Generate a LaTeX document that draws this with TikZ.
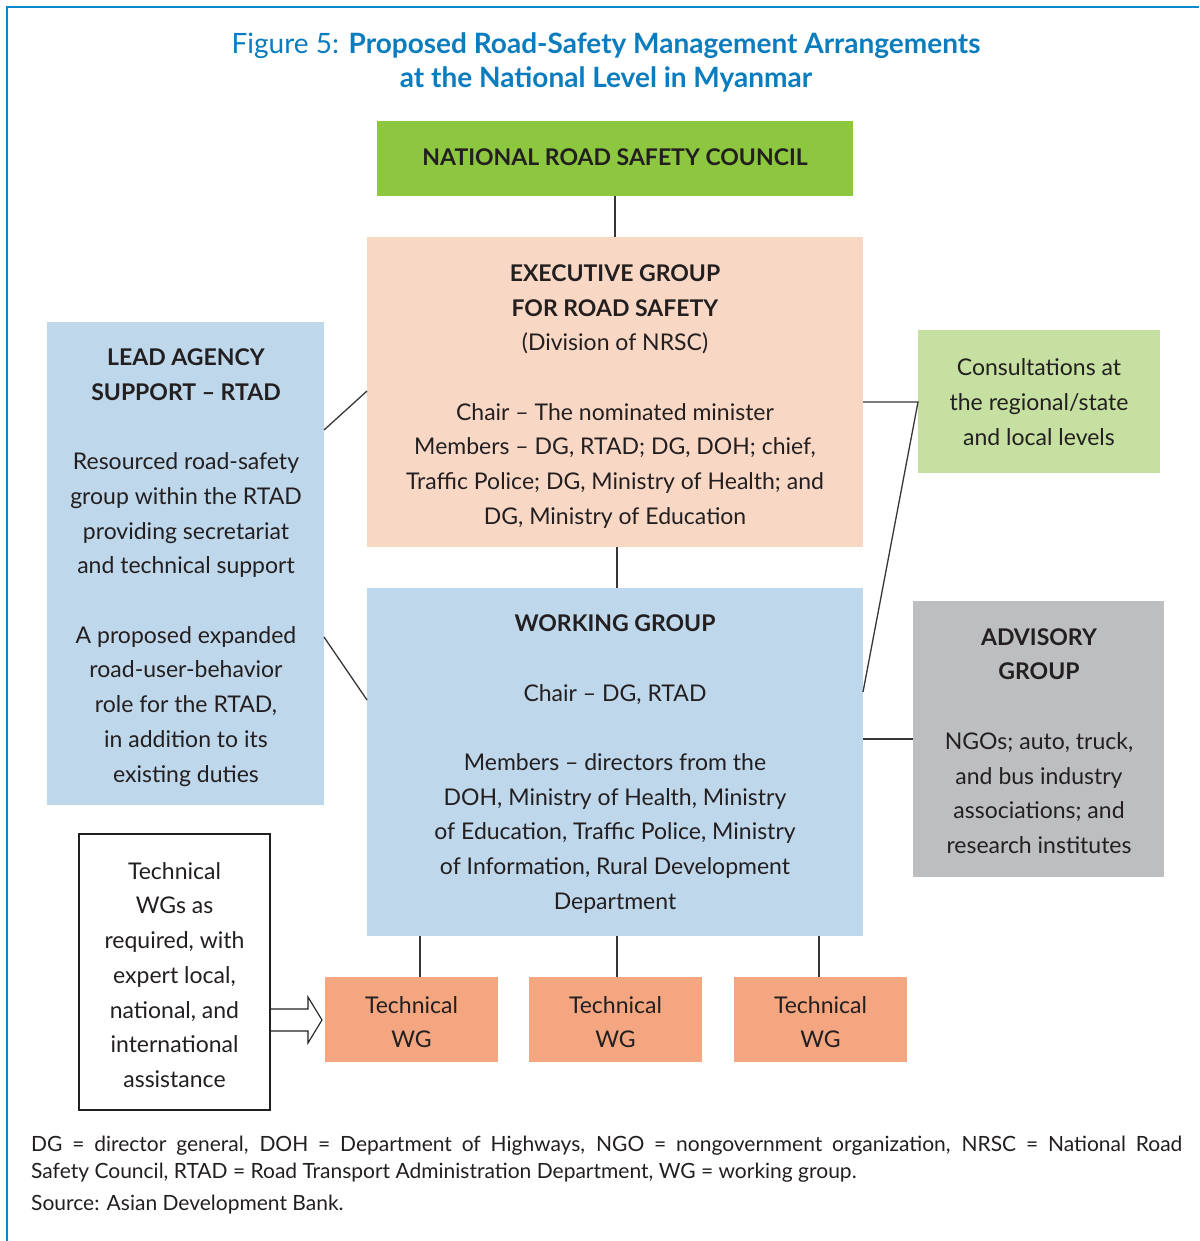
\documentclass[tikz,border=0pt]{standalone}
\usepackage{fontspec}
\setmainfont{Lato}
\usetikzlibrary{shapes.arrows}
\definecolor{frameblue}{HTML}{0A88CC}
\definecolor{titleblue}{HTML}{0B7DBF}
\definecolor{nrscgreen}{HTML}{8DC63F}
\definecolor{execpeach}{HTML}{F8D8C5}
\definecolor{wgblue}{HTML}{BED7EB}
\definecolor{consgreen}{HTML}{C5E0A0}
\definecolor{advgrey}{HTML}{BCBEC0}
\definecolor{twgsalmon}{HTML}{F3A680}
\definecolor{txt}{HTML}{231F20}
\tikzset{
  box/.style={draw=none, inner sep=0pt, outer sep=0pt},
  btxt/.style={font=\fontsize{23}{34.7}\selectfont, text=txt, align=center, inner sep=0pt},
  link/.style={draw=txt!90, line width=1.3pt},
}
\begin{document}
\begin{tikzpicture}[x=1pt,y=-1pt]
\useasboundingbox (0,0) rectangle (1199,1241);
\fill[white] (0,0) rectangle (1199,1241);
\draw[frameblue, line width=2pt] (7,1241) -- (7,7) -- (1199,7);
% title
\node[font=\fontsize{28}{34}\selectfont, text=titleblue, align=center, inner sep=0pt] (title) at (606,62)
  {Figure 5: \textbf{Proposed Road-Safety Management Arrangements}\\ \textbf{at the National Level in Myanmar}};
% boxes
\fill[nrscgreen] (377,121) rectangle (853,196);
\coordinate (nrscB) at (615,196);
\node[btxt, font=\fontsize{23}{34.7}\selectfont\bfseries] (nrsc) at (615,157) {NATIONAL ROAD SAFETY COUNCIL};
\fill[execpeach] (367,237) rectangle (863,547);
\coordinate (execT) at (615,237);
\coordinate (execB) at (617,547);
\coordinate (execL) at (367,391);
\coordinate (execR) at (863,402);
\node[btxt] (exec) at (615,396.5) {\textbf{EXECUTIVE GROUP}\\ \textbf{FOR ROAD SAFETY}\\ (Division of NRSC)\\[34.7pt] Chair – The nominated minister\\ Members – DG, RTAD; DG, DOH; chief,\\ Traffic Police; DG, Ministry of Health; and\\ DG, Ministry of Education};
\fill[wgblue] (367,588) rectangle (863,936);
\coordinate (wgT) at (617,588);
\coordinate (wgL) at (367,700);
\coordinate (wgR1) at (863,692);
\coordinate (wgR2) at (863,739);
\coordinate (wgB1) at (420,936);
\coordinate (wgB2) at (617,936);
\coordinate (wgB3) at (819,936);
\node[btxt] (wg) at (615,764) {\textbf{WORKING GROUP}\\[34.7pt] Chair – DG, RTAD\\[34.7pt] Members – directors from the\\ DOH, Ministry of Health, Ministry\\ of Education, Traffic Police, Ministry\\ of Information, Rural Development\\ Department};
\fill[wgblue] (47,322) rectangle (324,805);
\coordinate (leadA) at (324,430);
\coordinate (leadB) at (324,637);
\node[btxt] (lead) at (186,567.5) {\textbf{LEAD AGENCY}\\ \textbf{SUPPORT – RTAD}\\[34.7pt] Resourced road-safety\\ group within the RTAD\\ providing secretariat\\ and technical support\\[34.7pt] A proposed expanded\\ road-user-behavior\\ role for the RTAD,\\ in addition to its\\ existing duties};
\fill[consgreen] (918,330) rectangle (1160,473);
\coordinate (consL) at (918,402);
\node[btxt] (cons) at (1039,402) {Consultations at\\ the regional/state\\ and local levels};
\fill[advgrey] (913,601) rectangle (1164,877);
\coordinate (advL) at (913,739);
\node[btxt] (adv) at (1039,741) {\textbf{ADVISORY}\\ \textbf{GROUP}\\[34.7pt] NGOs; auto, truck,\\ and bus industry\\ associations; and\\ research institutes};
\foreach \i/\x in {1/325,2/529,3/734}{
  \fill[twgsalmon] (\x,977) rectangle ++(173,85);
}
\coordinate (t1T) at (420,977);
\coordinate (t2T) at (617,977);
\coordinate (t3T) at (819,977);
\node[btxt] (t1) at (411.5,1022) {Technical\\ WG};
\node[btxt] (t2) at (615.5,1022) {Technical\\ WG};
\node[btxt] (t3) at (820.5,1022) {Technical\\ WG};
\node[draw=txt, line width=1.2pt, minimum width=191pt, minimum height=276pt, inner sep=0pt] (exp) at (174.5,972) {};
\node[btxt] (expt) at (174.5,975) {Technical\\ WGs as\\ required, with\\ expert local,\\ national, and\\ international\\ assistance};
% block arrow
\draw[txt, line width=1.1pt, fill=white] (271,1009) -- (308,1009) -- (308,997) -- (322,1020) -- (308,1043) -- (308,1031) -- (271,1031);
% connectors
\draw[link] (nrscB) -- (execT);
\draw[link] (execB) -- (wgT);
\draw[link] (leadA) -- (execL);
\draw[link] (leadB) -- (wgL);
\draw[link] (execR) -- (consL) -- (wgR1);
\draw[link] (wgR2) -- (advL);
\draw[link] (wgB1) -- (t1T);
\draw[link] (wgB2) -- (t2T);
\draw[link] (wgB3) -- (t3T);
% footnote
\node[anchor=north west, text width=1151pt, align=justify, font=\fontsize{21}{27}\selectfont, text=txt, inner sep=0pt] (foot) at (31,1136)
  {DG = director general, DOH = Department of Highways, NGO = nongovernment organization, NRSC = National Road\linebreak Safety Council, RTAD = Road Transport Administration Department, WG = working group.\par\vspace{5pt}\noindent Source: Asian Development Bank.};
\end{tikzpicture}
\end{document}
